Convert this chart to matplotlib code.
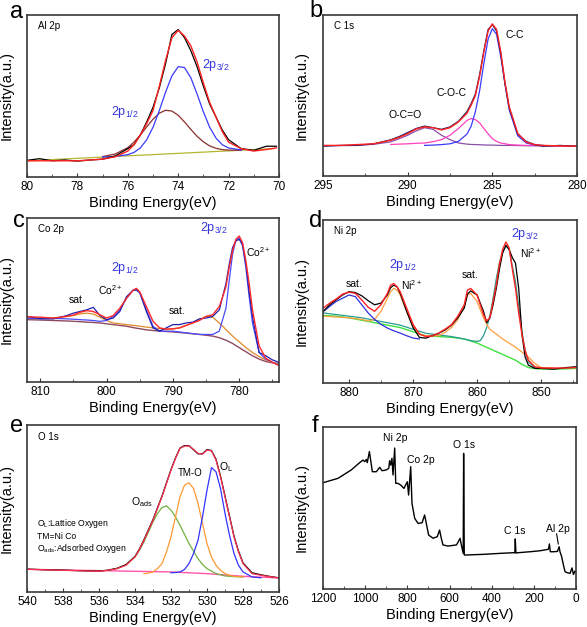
import matplotlib
matplotlib.use("Agg")
from matplotlib import pyplot as plt
from matplotlib.ticker import MultipleLocator

plt.rcParams['font.family'] = ['Liberation Sans', 'DejaVu Sans']
plt.rcParams['mathtext.fontset'] = 'custom'
plt.rcParams['mathtext.rm'] = 'Liberation Sans'
plt.rcParams['mathtext.it'] = 'Liberation Sans'

# ---- (a) Al 2p ----
al_e = [80, 79.5, 79, 78.5, 78, 77.5, 77, 76.5, 76, 75.75, 75.5, 75.25, 75, 74.75, 74.5,
        74.25, 74, 73.75, 73.5, 73.25, 73, 72.75, 72.5, 72.25, 72, 71.5, 71, 70.5, 70.1]
al_raw = [0.103, 0.113, 0.10, 0.105, 0.098, 0.105, 0.11, 0.13, 0.175, 0.20, 0.26, 0.34, 0.43, 0.55, 0.70,
          0.88, 0.91, 0.86, 0.78, 0.68, 0.56, 0.45, 0.37, 0.29, 0.23, 0.175, 0.165, 0.19, 0.19]
al_fit = [0.10, 0.10, 0.10, 0.10, 0.10, 0.105, 0.11, 0.125, 0.16, 0.20, 0.26, 0.33, 0.41, 0.56, 0.72,
          0.86, 0.905, 0.87, 0.81, 0.71, 0.58, 0.46, 0.37, 0.28, 0.215, 0.175, 0.16, 0.17, 0.18]
al_ce = [77, 76.5, 76, 75.75, 75.5, 75.25, 75, 74.75, 74.5, 74.25, 74, 73.75, 73.5, 73.25, 73,
         72.75, 72.5, 72.25, 72, 71.5]
al_p32 = [0.123, 0.127, 0.138, 0.152, 0.18, 0.23, 0.307, 0.41, 0.524, 0.624, 0.681, 0.676, 0.613, 0.512, 0.402,
          0.307, 0.24, 0.199, 0.179, 0.167]
al_p12 = [0.126, 0.142, 0.181, 0.216, 0.26, 0.309, 0.357, 0.394, 0.412, 0.407, 0.381, 0.34, 0.294, 0.251, 0.217,
          0.192, 0.177, 0.169, 0.166, 0.165]
al_bg_e = [80, 70.2]
al_bg = [0.10, 0.175]

# ---- (b) C 1s ----
c_e = [295, 294, 293, 292, 291, 290.5, 290, 289.5, 289, 288.5, 288, 287.5, 287, 286.5, 286.25,
       286, 285.75, 285.5, 285.25, 285, 284.75, 284.5, 284.25, 284, 283.5, 283, 282.5, 282, 281, 280]
c_raw = [0.185, 0.19, 0.19, 0.20, 0.225, 0.245, 0.27, 0.295, 0.31, 0.30, 0.29, 0.305, 0.34, 0.40, 0.45,
         0.51, 0.63, 0.78, 0.91, 0.94, 0.90, 0.76, 0.57, 0.42, 0.26, 0.215, 0.195, 0.185, 0.19, 0.185]
c_fit = [0.19, 0.19, 0.195, 0.20, 0.222, 0.24, 0.263, 0.292, 0.305, 0.30, 0.286, 0.30, 0.336, 0.39, 0.44,
         0.50, 0.62, 0.77, 0.90, 0.945, 0.91, 0.77, 0.58, 0.43, 0.265, 0.21, 0.195, 0.19, 0.187, 0.185]
c_cc = [0.19, 0.19, 0.19, 0.19, 0.19, 0.19, 0.19, 0.19, 0.19, 0.192, 0.195, 0.20, 0.215, 0.26, 0.31,
        0.40, 0.53, 0.70, 0.85, 0.915, 0.88, 0.74, 0.57, 0.41, 0.25, 0.205, 0.193, 0.19, 0.188, 0.186]
c_coc = [0.19, 0.19, 0.19, 0.192, 0.196, 0.198, 0.20, 0.203, 0.205, 0.213, 0.226, 0.253, 0.295, 0.345, 0.357,
         0.35, 0.33, 0.295, 0.262, 0.232, 0.215, 0.205, 0.20, 0.195, 0.192, 0.19, 0.189, 0.188, 0.187, 0.186]
c_oco = [0.188, 0.189, 0.19, 0.197, 0.212, 0.232, 0.253, 0.28, 0.30, 0.29, 0.253, 0.226, 0.205, 0.198, 0.196,
         0.195, 0.194, 0.193, 0.192, 0.192, 0.191, 0.19, 0.19, 0.19, 0.189, 0.188, 0.188, 0.187, 0.186, 0.185]

# ---- (c) Co 2p ----
co_e = [812, 810, 808, 806, 805, 804, 803, 802, 801, 800, 799, 798, 797, 796, 795.5, 795, 794, 793, 792,
        791, 790, 789, 788, 787, 786, 785, 784, 783, 782, 781.5, 781, 780.5, 780, 779.5, 779, 778.5, 778,
        777, 776, 775, 774]
co_raw = [0.40, 0.385, 0.385, 0.405, 0.42, 0.43, 0.44, 0.455, 0.405, 0.38, 0.39, 0.43, 0.52, 0.56, 0.56,
          0.545, 0.43, 0.33, 0.31, 0.33, 0.35, 0.35, 0.36, 0.365, 0.385, 0.39, 0.40, 0.44, 0.60, 0.72,
          0.82, 0.86, 0.87, 0.84, 0.72, 0.55, 0.40, 0.18, 0.16, 0.135, 0.12]
co_fit = [0.398, 0.395, 0.39, 0.40, 0.408, 0.425, 0.435, 0.43, 0.41, 0.39, 0.405, 0.45, 0.51, 0.56, 0.571,
          0.55, 0.46, 0.37, 0.33, 0.322, 0.325, 0.33, 0.345, 0.36, 0.375, 0.40, 0.41, 0.46, 0.58, 0.70,
          0.80, 0.87, 0.89, 0.85, 0.74, 0.60, 0.44, 0.22, 0.145, 0.12, 0.10]
co_main = [0.388, 0.388, 0.388, 0.385, 0.383, 0.38, 0.378, 0.375, 0.37, 0.375, 0.40, 0.44, 0.51, 0.56, 0.565,
           0.545, 0.44, 0.34, 0.31, 0.31, 0.31, 0.305, 0.30, 0.295, 0.29, 0.29, 0.29, 0.31, 0.45, 0.62,
           0.78, 0.865, 0.88, 0.83, 0.70, 0.52, 0.36, 0.18, 0.14, 0.12, 0.105]
co_sat = [0.39, 0.388, 0.39, 0.40, 0.405, 0.415, 0.42, 0.415, 0.395, 0.375, 0.36, 0.355, 0.35, 0.345, 0.343,
          0.34, 0.335, 0.33, 0.325, 0.322, 0.323, 0.33, 0.345, 0.36, 0.38, 0.40, 0.395, 0.36, 0.32, 0.30,
          0.28, 0.262, 0.245, 0.228, 0.21, 0.195, 0.18, 0.155, 0.135, 0.12, 0.11]
co_bg = [0.38, 0.378, 0.375, 0.372, 0.37, 0.368, 0.365, 0.363, 0.36, 0.355, 0.35, 0.345, 0.34, 0.332, 0.328,
         0.325, 0.318, 0.314, 0.31, 0.308, 0.305, 0.302, 0.298, 0.294, 0.29, 0.285, 0.28, 0.27, 0.255, 0.245,
         0.235, 0.222, 0.21, 0.197, 0.185, 0.172, 0.16, 0.14, 0.125, 0.117, 0.112]

# ---- (d) Ni 2p ----
ni_e = [884, 883, 882, 881, 880, 879, 878, 877, 876, 875, 874, 873.5, 873, 872.5, 872, 871, 870, 869,
        868, 867, 866, 865, 864, 863, 862, 861.5, 861, 860, 859, 858.5, 858, 857.5, 857, 856.5, 856,
        855.5, 855, 854.5, 854, 853.5, 853, 852.5, 852, 851, 850, 848, 846, 844.5]
ni_raw = [0.44, 0.48, 0.51, 0.54, 0.56, 0.555, 0.535, 0.505, 0.48, 0.49, 0.54, 0.585, 0.60, 0.59, 0.55,
          0.44, 0.34, 0.28, 0.275, 0.29, 0.305, 0.325, 0.355, 0.40, 0.46, 0.545, 0.565, 0.54, 0.44, 0.37,
          0.40, 0.48, 0.58, 0.70, 0.80, 0.845, 0.82, 0.77, 0.735, 0.58, 0.30, 0.16, 0.11, 0.09, 0.09,
          0.085, 0.095, 0.10]
ni_fit = [0.46, 0.49, 0.515, 0.545, 0.557, 0.55, 0.51, 0.465, 0.44, 0.48, 0.55, 0.60, 0.61, 0.59, 0.56,
          0.46, 0.36, 0.30, 0.285, 0.288, 0.306, 0.33, 0.357, 0.41, 0.48, 0.57, 0.58, 0.54, 0.42, 0.38,
          0.40, 0.50, 0.60, 0.73, 0.82, 0.865, 0.83, 0.70, 0.58, 0.43, 0.30, 0.20, 0.14, 0.10, 0.092,
          0.092, 0.092, 0.095]
ni_sat_e = [884, 883, 882, 881, 880, 879, 878, 877, 876, 875, 874, 873, 872, 871, 870, 869]
ni_sat = [0.439, 0.47, 0.50, 0.52, 0.54, 0.53, 0.48, 0.43, 0.39, 0.36, 0.337, 0.32, 0.306, 0.29, 0.276, 0.27]
ni_p12_e = [884, 882, 880, 878, 877, 876, 875, 874, 873.5, 873, 872.5, 872, 871, 870, 869, 868, 867, 866,
            865, 864, 863, 862, 861.5, 861, 860, 859, 858.5, 858, 857, 856, 855, 854, 853, 852, 851, 850, 848]
ni_p12 = [0.41, 0.405, 0.40, 0.39, 0.38, 0.39, 0.44, 0.52, 0.56, 0.58, 0.57, 0.54, 0.44, 0.35, 0.30, 0.29,
          0.29, 0.29, 0.31, 0.34, 0.39, 0.47, 0.54, 0.55, 0.50, 0.40, 0.36, 0.33, 0.30, 0.27, 0.245, 0.22,
          0.19, 0.16, 0.12, 0.095, 0.09]
ni_p32_e = [884, 882, 880, 878, 876, 874, 872, 870, 868, 866, 864, 862, 861, 860, 859.5, 859, 858.5, 858,
            857.5, 857, 856.5, 856, 855.5, 855, 854.5, 854, 853.5, 853, 852.5, 852, 851, 850, 848]
ni_p32 = [0.43, 0.42, 0.41, 0.40, 0.385, 0.37, 0.355, 0.33, 0.305, 0.295, 0.285, 0.27, 0.26, 0.255, 0.26,
          0.29, 0.34, 0.41, 0.52, 0.64, 0.74, 0.80, 0.84, 0.82, 0.72, 0.62, 0.47, 0.32, 0.20, 0.13, 0.095,
          0.09, 0.088]
ni_bg_e = [884, 882, 880, 878, 876, 874, 872, 870, 869, 868, 866, 864, 862, 860, 858, 856, 854, 853, 852,
           851, 850, 848, 846, 844.5]
ni_bg = [0.415, 0.41, 0.40, 0.385, 0.37, 0.355, 0.34, 0.315, 0.30, 0.29, 0.285, 0.28, 0.27, 0.245, 0.21,
         0.175, 0.14, 0.115, 0.095, 0.088, 0.085, 0.085, 0.087, 0.09]

# ---- (e) O 1s ----
o_e = [540, 539, 538, 537, 536, 535.5, 535, 534.5, 534, 533.75, 533.5, 533.25, 533, 532.75, 532.5, 532.25,
       532, 531.75, 531.5, 531.25, 531, 530.75, 530.5, 530.25, 530, 529.75, 529.5, 529.25, 529, 528.75,
       528.5, 528.25, 528, 527.5, 527, 526.5, 526]
o_raw = [0.137, 0.133, 0.131, 0.127, 0.125, 0.131, 0.142, 0.163, 0.213, 0.258, 0.314, 0.374, 0.434, 0.505,
         0.574, 0.654, 0.733, 0.803, 0.862, 0.877, 0.876, 0.852, 0.827, 0.828, 0.853, 0.847, 0.795, 0.695,
         0.575, 0.455, 0.335, 0.245, 0.175, 0.115, 0.103, 0.093, 0.085]
o_fit = [0.136, 0.133, 0.13, 0.127, 0.124, 0.13, 0.14, 0.16, 0.21, 0.255, 0.31, 0.37, 0.43, 0.50, 0.57, 0.65,
         0.73, 0.80, 0.86, 0.874, 0.874, 0.855, 0.83, 0.826, 0.85, 0.845, 0.79, 0.69, 0.57, 0.45,
         0.33, 0.24, 0.17, 0.11, 0.10, 0.092, 0.084]
o_ads_e = [535.5, 535, 534.5, 534, 533.75, 533.5, 533.25, 533, 532.75, 532.5, 532.25, 532, 531.75, 531.5,
           531.25, 531, 530.75, 530.5, 530.25, 530, 529.75, 529.5, 529.25, 529, 528.5, 528]
o_ads = [0.13, 0.14, 0.165, 0.21, 0.25, 0.30, 0.36, 0.42, 0.47, 0.506, 0.516, 0.49, 0.45, 0.40,
         0.345, 0.29, 0.245, 0.20, 0.165, 0.14, 0.125, 0.11, 0.103, 0.096, 0.092, 0.09]
o_tm_e = [533.5, 533.25, 533, 532.75, 532.5, 532.25, 532, 531.75, 531.5, 531.25, 531, 530.75, 530.5,
          530.25, 530, 529.75, 529.5, 529.25, 529, 528.75, 528.5, 528]
o_tm = [0.11, 0.113, 0.12, 0.14, 0.17, 0.24, 0.33, 0.45, 0.57, 0.64, 0.654, 0.62, 0.53,
        0.41, 0.29, 0.21, 0.16, 0.13, 0.11, 0.10, 0.094, 0.09]
o_l_e = [532, 531.75, 531.5, 531.25, 531, 530.75, 530.5, 530.25, 530, 529.75, 529.5, 529.25, 529, 528.75,
         528.5, 528.25, 528, 527.5, 527]
o_l = [0.115, 0.117, 0.12, 0.135, 0.17, 0.23, 0.31, 0.45, 0.61, 0.745, 0.72, 0.62, 0.47, 0.34,
       0.23, 0.16, 0.12, 0.09, 0.085]
o_bg_e = [540, 535, 532, 530, 528, 526]
o_bg = [0.136, 0.126, 0.12, 0.11, 0.094, 0.084]

# ---- (f) survey ----
sv_e = [1200, 1129, 1066, 1026, 1010, 1002, 994, 990, 980, 974, 966, 947, 931, 920, 900, 888, 884, 879,
        873, 868, 860, 855, 844, 832, 816, 808, 800, 794, 784, 778, 765, 749, 730, 718, 710, 699, 678,
        658, 647, 639, 631, 607, 567, 558, 550, 542, 535, 533, 530, 518, 439, 360, 297, 290, 288, 285,
        276, 218, 171, 131, 126, 122, 107, 88, 80, 76, 68, 60, 52, 40, 28, 19, 12, 5, 1]
sv_i = [0.656, 0.683, 0.735, 0.78, 0.796, 0.786, 0.80, 0.78, 0.848, 0.796, 0.724, 0.724, 0.751, 0.73,
        0.735, 0.745, 0.792, 0.765, 0.807, 0.704, 0.87, 0.652, 0.652, 0.642, 0.621, 0.642, 0.662, 0.58,
        0.755, 0.529, 0.436, 0.405, 0.409, 0.457, 0.405, 0.333, 0.313, 0.323, 0.364, 0.313, 0.272, 0.265,
        0.272, 0.292, 0.313, 0.261, 0.22, 0.837, 0.21, 0.21, 0.214, 0.22, 0.224, 0.224, 0.309, 0.222,
        0.224, 0.23, 0.236, 0.245, 0.278, 0.23, 0.23, 0.232, 0.261, 0.23, 0.2, 0.15, 0.107, 0.10, 0.097,
        0.13, 0.09, 0.11, 0.107]

BLUE_TXT = '#3535e0'
SPINE = '#3a3a3a'
P12 = r'2p$_{\mathregular{1/2}}$'
P32 = r'2p$_{\mathregular{3/2}}$'


def setup(ax, xlim, major, minor, letter, name, lx, ly):
    ax.set_xlim(*xlim)
    ax.set_ylim(0, 1)
    ax.set_yticks([])
    ax.xaxis.set_major_locator(MultipleLocator(major))
    ax.xaxis.set_minor_locator(MultipleLocator(minor))
    ax.tick_params(axis='x', which='both', direction='in', labelsize=8.5, pad=3, color=SPINE)
    ax.tick_params(axis='x', which='major', length=3, width=0.8)
    ax.tick_params(axis='x', which='minor', length=2, width=0.6)
    for s in ax.spines.values():
        s.set_linewidth(1.2)
        s.set_color(SPINE)
    ax.set_xlabel('Binding Energy(eV)', fontsize=10.5, labelpad=2)
    ax.set_ylabel('Intensity(a.u.)', fontsize=10.5)
    ax.yaxis.set_label_coords(-0.055, 0.5)
    ax.text(0.045, 0.93, name, transform=ax.transAxes, fontsize=7, va='center')
    fig.text(lx / 587, 1 - ly / 627, letter, fontsize=17, ha='center', va='baseline')


fig = plt.figure(figsize=(5.87, 6.27), dpi=100)
W = 587
H = 627


def panel(x0, y0, x1, y1):
    return fig.add_axes([x0 / W, 1 - y1 / H, (x1 - x0) / W, (y1 - y0) / H])


# (a)
ax = panel(27, 15, 279, 177)
ax.plot(al_bg_e, al_bg, color='#b5b530', lw=0.9)
ax.plot(al_ce, al_p12, color='#8b2e2e', lw=0.9)
ax.plot(al_ce, al_p32, color='#3a3aff', lw=0.9)
ax.plot(al_e, al_raw, color='black', lw=0.9)
ax.plot(al_e, al_fit, color='#ff2020', lw=1.0)
setup(ax, (80, 70), 2, 1, 'a', 'Al 2p', 17, 18)
ax.text(76.1, 0.40, P12, color=BLUE_TXT, fontsize=9, ha='center', va='center')
ax.text(72.5, 0.69, P32, color=BLUE_TXT, fontsize=9, ha='center', va='center')

# (b)
ax = panel(323, 15, 577, 176)
ax.plot(c_e, c_oco, color='#8a50a8', lw=0.9)
ax.plot(c_e[4:], c_coc[4:], color='#ff40c0', lw=0.9)
ax.plot(c_e[8:28], c_cc[8:28], color='#3a3aff', lw=0.9)
ax.plot(c_e, c_raw, color='#202060', lw=0.9)
ax.plot(c_e, c_fit, color='#ff2020', lw=1.0)
setup(ax, (295, 280), 5, 2.5, 'b', 'C 1s', 316, 17)
ax.text(283.66, 0.876, 'C-C', fontsize=7.5, ha='center', va='center')
ax.text(287.4, 0.516, 'C-O-C', fontsize=7.5, ha='center', va='center')
ax.text(290.16, 0.379, 'O-C=O', fontsize=7.5, ha='center', va='center')

# (c)
ax = panel(27, 218, 279, 382)
ax.plot(co_e, co_bg, color='#8e4a5e', lw=1.0)
ax.plot(co_e, co_sat, color='#e08a2a', lw=0.9)
ax.plot(co_e, co_main, color='#4b4bff', lw=0.9)
ax.plot(co_e, co_raw, color='#2020b0', lw=0.9)
ax.plot(co_e, co_fit, color='#ff2a2a', lw=1.0)
setup(ax, (812, 774), 10, 5, 'c', 'Co 2p', 19, 227)
ax.text(797.3, 0.695, P12, color=BLUE_TXT, fontsize=9, ha='center', va='center')
ax.text(783.8, 0.94, P32, color=BLUE_TXT, fontsize=9, ha='center', va='center')
ax.text(799.5, 0.56, r'Co$^{\mathregular{2+}}$', fontsize=7.5, ha='center', va='center')
ax.text(779, 0.79, r'Co$^{\mathregular{2+}}$', fontsize=7.5, ha='left', va='center')
ax.text(804.5, 0.50, 'sat.', fontsize=7.5, ha='center', va='center')
ax.text(789.4, 0.433, 'sat.', fontsize=7.5, ha='center', va='center')

# (d)
ax = panel(323, 220, 577, 383)
ax.plot(ni_bg_e, ni_bg, color='#40e040', lw=1.0)
ax.plot(ni_p32_e, ni_p32, color='#2a9d8f', lw=0.9)
ax.plot(ni_p12_e, ni_p12, color='#ffa040', lw=0.9)
ax.plot(ni_sat_e, ni_sat, color='#3030e0', lw=0.9)
ax.plot(ni_e, ni_raw, color='black', lw=0.9)
ax.plot(ni_e, ni_fit, color='#ff2020', lw=1.0)
setup(ax, (884.05, 844.4), 10, 5, 'd', 'Ni 2p', 316, 227)
ax.text(871.6, 0.724, P12, color=BLUE_TXT, fontsize=9, ha='center', va='center')
ax.text(852.6, 0.914, P32, color=BLUE_TXT, fontsize=9, ha='center', va='center')
ax.text(870.2, 0.60, r'Ni$^{\mathregular{2+}}$', fontsize=7.5, ha='center', va='center')
ax.text(853.3, 0.80, r'Ni$^{\mathregular{2+}}$', fontsize=7.5, ha='left', va='center')
ax.text(879.2, 0.61, 'sat.', fontsize=7.5, ha='center', va='center')
ax.text(861.1, 0.663, 'sat.', fontsize=7.5, ha='center', va='center')

# (e)
ax = panel(27, 425, 279, 592)
ax.plot(o_bg_e, o_bg, color='#ff55aa', lw=1.0)
ax.plot(o_ads_e, o_ads, color='#70b040', lw=0.9)
ax.plot(o_tm_e, o_tm, color='#ff9933', lw=0.9)
ax.plot(o_l_e, o_l, color='#3333ff', lw=0.9)
ax.plot(o_e, o_raw, color='black', lw=0.9)
ax.plot(o_e, o_fit, color='#ff3050', lw=0.9)
setup(ax, (540, 526), 2, 1, 'e', 'O 1s', 17, 432)
ax.text(529.35, 0.75, r'O$_{\mathregular{L}}$', fontsize=7.5, ha='left', va='center')
ax.text(530.94, 0.71, 'TM-O', fontsize=7, ha='center', va='center')
ax.text(533.6, 0.54, r'O$_{\mathregular{ads}}$', fontsize=7.5, ha='center', va='center')
ax.text(0.04, 0.395, r'O$_{\mathregular{L}}$:Lattice Oxygen', transform=ax.transAxes, fontsize=6.2)
ax.text(0.04, 0.32, 'TM=Ni Co', transform=ax.transAxes, fontsize=6.2)
ax.text(0.04, 0.245, r'O$_{\mathregular{ads}}$:Adsorbed Oxygen', transform=ax.transAxes, fontsize=6.2)

# (f)
ax = panel(323, 427, 576, 589)
ax.plot(sv_e, sv_i, color='black', lw=1.0)
setup(ax, (1200, 0), 200, 100, 'f', '', 315, 432)
ax.text(858, 0.93, 'Ni 2p', fontsize=7.5, ha='center', va='center')
ax.text(736, 0.796, 'Co 2p', fontsize=7.5, ha='center', va='center')
ax.text(531, 0.889, 'O 1s', fontsize=7.5, ha='center', va='center')
ax.text(289, 0.36, 'C 1s', fontsize=7.5, ha='center', va='center')
ax.text(84, 0.37, 'Al 2p', fontsize=7.5, ha='center', va='center')
ax.plot([92, 84], [0.34, 0.278], color='black', lw=0.8)

fig.savefig('out.png', dpi=100)
